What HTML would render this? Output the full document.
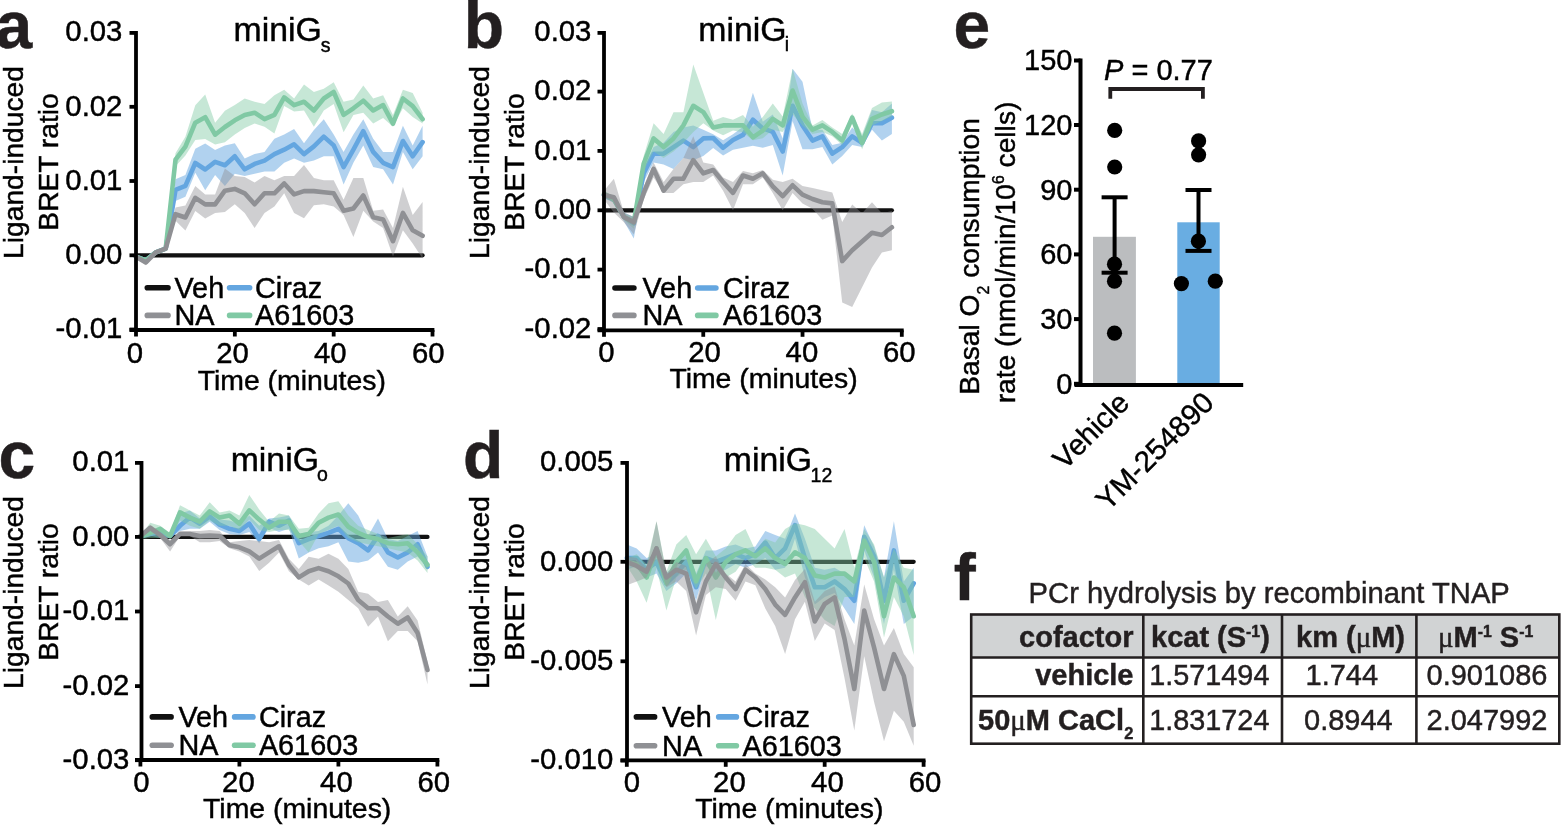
<!DOCTYPE html><html><head><meta charset="utf-8"><title>Figure</title><style>html,body{margin:0;padding:0;background:#fff;overflow:hidden}svg{display:block}text{stroke:#000;stroke-width:0.45px}.tb text,.lbl{stroke:#231f20}</style></head><body>
<svg width="1561" height="826" viewBox="0 0 1561 826" font-family="'Liberation Sans', Arial, sans-serif" fill="#000">
<rect width="1561" height="826" fill="#fff"/>
<text class="lbl" x="-4.5" y="47.5" font-size="66" font-weight="bold" fill="#231f20">a</text>
<text class="lbl" x="463.8" y="47.5" font-size="66" font-weight="bold" fill="#231f20">b</text>
<text class="lbl" x="-1.5" y="477.5" font-size="66" font-weight="bold" fill="#231f20">c</text>
<text class="lbl" x="463" y="477.5" font-size="66" font-weight="bold" fill="#231f20">d</text>
<text class="lbl" x="953.5" y="47.5" font-size="66" font-weight="bold" fill="#231f20">e</text>
<text class="lbl" x="953.7" y="599.5" font-size="66" font-weight="bold" fill="#231f20">f</text>
<text x="233.6" y="41" font-size="33.8">miniG</text><text x="320.8" y="52" font-size="19.5">s</text>
<text x="698.3" y="40.5" font-size="33.8">miniG</text><text x="784.8" y="51.4" font-size="19.5">i</text>
<text x="230.7" y="470.5" font-size="33.8">miniG</text><text x="317" y="481.4" font-size="19.5">o</text>
<text x="723.8" y="470.5" font-size="33.8">miniG</text><text x="810.6" y="481.7" font-size="19.5">12</text>
<line x1="136.0" y1="255.3" x2="422.6166666666667" y2="255.3" stroke="#111111" stroke-width="4.2" stroke-linecap="round"/>
<polygon points="136.0,255.1 145.9,258.2 155.8,250.6 165.7,246.9 175.5,179.3 185.4,175.0 195.3,148.8 205.2,143.4 215.1,149.9 224.9,145.6 234.8,143.2 244.7,158.4 254.6,154.1 264.5,151.9 274.4,138.8 284.2,134.5 294.1,129.0 304.0,143.2 313.9,130.1 323.8,119.2 333.7,134.5 343.6,151.9 353.4,134.5 363.3,119.2 373.2,138.8 383.1,151.9 393.0,151.9 402.9,125.8 412.7,145.4 422.6,125.8 422.6,156.3 412.7,169.3 402.9,151.9 393.0,184.6 383.1,169.3 373.2,167.1 363.3,145.4 353.4,162.8 343.6,184.6 333.7,156.3 323.8,156.3 313.9,160.6 304.0,162.8 294.1,158.4 284.2,162.8 274.4,171.5 264.5,171.5 254.6,173.7 244.7,175.9 234.8,173.7 224.9,185.9 215.1,175.0 205.2,190.2 195.3,172.8 185.4,196.8 175.5,201.1 165.7,250.3 155.8,254.1 145.9,262.5 136.0,258.2" fill="#64a6e0" fill-opacity="0.5"/>
<polyline points="136.0,256.7 145.9,260.4 155.8,252.3 165.7,248.6 175.5,189.8 185.4,185.9 195.3,163.0 205.2,169.5 215.1,161.9 224.9,165.2 234.8,156.3 244.7,169.3 254.6,163.9 264.5,160.6 274.4,154.1 284.2,149.7 294.1,144.3 304.0,154.1 313.9,146.4 323.8,136.6 333.7,145.4 343.6,167.1 353.4,149.7 363.3,131.2 373.2,151.9 383.1,162.8 393.0,167.1 402.9,141.0 412.7,156.3 422.6,142.1" fill="none" stroke="#64a6e0" stroke-width="4.6" stroke-linejoin="round" stroke-linecap="round"/>
<polygon points="136.0,255.1 145.9,258.2 155.8,250.6 165.7,246.9 175.5,153.2 185.4,136.8 195.3,105.3 205.2,94.4 215.1,122.7 224.9,110.7 234.8,105.1 244.7,98.5 254.6,101.8 264.5,104.0 274.4,95.3 284.2,89.8 294.1,98.5 304.0,84.4 313.9,92.0 323.8,88.7 333.7,82.2 343.6,101.8 353.4,99.6 363.3,85.4 373.2,98.5 383.1,95.3 393.0,114.9 402.9,89.8 412.7,93.1 422.6,112.7 422.6,123.6 412.7,117.0 402.9,108.3 393.0,126.8 383.1,118.1 373.2,123.6 363.3,112.7 353.4,114.9 343.6,132.3 333.7,104.0 323.8,110.5 313.9,126.8 304.0,110.5 294.1,111.6 284.2,106.1 274.4,133.4 264.5,126.8 254.6,123.6 244.7,127.9 234.8,134.5 224.9,142.3 215.1,144.5 205.2,139.0 195.3,140.1 185.4,155.4 175.5,166.3 165.7,250.3 155.8,254.1 145.9,262.5 136.0,258.2" fill="#80c9a4" fill-opacity="0.45"/>
<polyline points="136.0,256.7 145.9,260.4 155.8,252.3 165.7,248.6 175.5,159.7 185.4,146.6 195.3,122.7 205.2,117.2 215.1,134.7 224.9,127.0 234.8,120.3 244.7,114.9 254.6,112.7 264.5,119.2 274.4,114.9 284.2,97.4 294.1,105.1 304.0,101.8 313.9,110.5 323.8,98.5 333.7,92.0 343.6,114.9 353.4,108.3 363.3,100.7 373.2,110.5 383.1,105.1 393.0,123.6 402.9,98.5 412.7,106.1 422.6,119.2" fill="none" stroke="#80c9a4" stroke-width="4.6" stroke-linejoin="round" stroke-linecap="round"/>
<polygon points="136.0,255.1 145.9,259.9 155.8,250.1 165.7,246.4 175.5,207.6 185.4,205.5 195.3,185.9 205.2,194.6 215.1,194.6 224.9,168.4 234.8,175.9 244.7,176.9 254.6,182.4 264.5,175.9 274.4,180.2 284.2,175.9 294.1,175.9 304.0,165.0 313.9,178.0 323.8,180.2 333.7,180.2 343.6,199.8 353.4,178.0 363.3,178.0 373.2,210.7 383.1,209.6 393.0,228.1 402.9,186.8 412.7,215.1 422.6,202.0 422.6,258.6 412.7,243.4 402.9,230.3 393.0,256.5 383.1,228.1 373.2,221.6 363.3,210.7 353.4,236.9 343.6,215.1 333.7,206.4 323.8,204.2 313.9,205.3 304.0,218.3 294.1,212.9 284.2,193.3 274.4,206.4 264.5,212.9 254.6,228.1 244.7,212.9 234.8,204.2 224.9,212.0 215.1,213.1 205.2,218.5 195.3,210.9 185.4,230.5 175.5,220.7 165.7,250.8 155.8,254.5 145.9,265.2 136.0,258.2" fill="#8f9094" fill-opacity="0.43"/>
<polyline points="136.0,256.7 145.9,262.5 155.8,252.3 165.7,248.6 175.5,214.2 185.4,217.5 195.3,197.8 205.2,204.4 215.1,204.4 224.9,190.7 234.8,188.9 244.7,193.3 254.6,204.2 264.5,193.3 274.4,193.3 284.2,183.5 294.1,194.4 304.0,191.1 313.9,191.1 323.8,192.2 333.7,193.3 343.6,210.7 353.4,208.5 363.3,195.5 373.2,217.3 383.1,219.4 393.0,241.2 402.9,212.9 412.7,230.3 422.6,235.8" fill="none" stroke="#8f9094" stroke-width="4.6" stroke-linejoin="round" stroke-linecap="round"/>
<line x1="136" y1="31" x2="136" y2="331.9" stroke="#000" stroke-width="3.8"/>
<line x1="129.5" y1="330" x2="434.4" y2="330" stroke="#000" stroke-width="3.8"/>
<line x1="129.5" y1="32.9" x2="136" y2="32.9" stroke="#000" stroke-width="3.8"/>
<text x="122.4" y="41.3" text-anchor="end" font-size="29.3">0.03</text>
<line x1="129.5" y1="106.8" x2="136" y2="106.8" stroke="#000" stroke-width="3.8"/>
<text x="122.4" y="115.5" text-anchor="end" font-size="29.3">0.02</text>
<line x1="129.5" y1="181" x2="136" y2="181" stroke="#000" stroke-width="3.8"/>
<text x="122.4" y="189.7" text-anchor="end" font-size="29.3">0.01</text>
<line x1="129.5" y1="255.3" x2="136" y2="255.3" stroke="#000" stroke-width="3.8"/>
<text x="122.4" y="264.0" text-anchor="end" font-size="29.3">0.00</text>
<line x1="129.5" y1="329.5" x2="136" y2="329.5" stroke="#000" stroke-width="3.8"/>
<text x="122.4" y="338.2" text-anchor="end" font-size="29.3">-0.01</text>
<line x1="136.0" y1="330" x2="136.0" y2="336.5" stroke="#000" stroke-width="3.8"/>
<text x="134.8" y="363" text-anchor="middle" font-size="29.3">0</text>
<line x1="234.83333333333331" y1="330" x2="234.83333333333331" y2="336.5" stroke="#000" stroke-width="3.8"/>
<text x="232.6" y="363" text-anchor="middle" font-size="29.3">20</text>
<line x1="333.66666666666663" y1="330" x2="333.66666666666663" y2="336.5" stroke="#000" stroke-width="3.8"/>
<text x="330.2" y="363" text-anchor="middle" font-size="29.3">40</text>
<line x1="432.5" y1="330" x2="432.5" y2="336.5" stroke="#000" stroke-width="3.8"/>
<text x="428.2" y="363" text-anchor="middle" font-size="29.3">60</text>
<line x1="604.0" y1="210.3" x2="891.8733333333332" y2="210.3" stroke="#111111" stroke-width="4.2" stroke-linecap="round"/>
<polygon points="604.0,191.8 613.9,196.2 623.9,212.5 633.8,216.9 643.7,166.8 653.6,147.1 663.6,142.8 673.5,131.9 683.4,127.5 693.3,125.4 703.3,129.7 713.2,134.3 723.1,140.2 733.0,134.3 743.0,126.7 752.9,92.7 762.8,121.7 772.8,114.5 782.7,138.4 792.6,68.7 802.5,81.8 812.5,129.7 822.4,129.7 832.3,145.0 842.2,142.8 852.2,127.5 862.1,136.3 872.0,110.1 881.9,112.3 891.9,103.6 891.9,134.1 881.9,140.6 872.0,129.7 862.1,147.1 852.2,145.0 842.2,155.9 832.3,164.6 822.4,147.1 812.5,149.3 802.5,149.3 792.6,121.0 782.7,175.5 772.8,145.0 762.8,147.8 752.9,145.8 743.0,147.8 733.0,149.8 723.1,155.6 713.2,148.0 703.3,155.9 693.3,160.2 683.4,158.0 673.5,168.9 663.6,164.6 653.6,162.4 643.7,182.0 633.8,238.6 623.9,221.2 613.9,202.7 604.0,198.3" fill="#64a6e0" fill-opacity="0.5"/>
<polyline points="604.0,195.1 613.9,199.4 623.9,216.9 633.8,223.4 643.7,173.3 653.6,153.7 663.6,153.7 673.5,147.1 683.4,140.6 693.3,147.1 703.3,138.4 713.2,138.0 723.1,147.8 733.0,140.0 743.0,134.9 752.9,119.7 762.8,128.4 772.8,131.9 782.7,151.5 792.6,105.8 802.5,125.4 812.5,140.6 822.4,136.3 832.3,153.7 842.2,147.1 852.2,136.3 862.1,142.8 872.0,123.2 881.9,123.2 891.9,117.7" fill="none" stroke="#64a6e0" stroke-width="4.6" stroke-linejoin="round" stroke-linecap="round"/>
<polygon points="604.0,190.7 613.9,196.2 623.9,213.6 633.8,216.9 643.7,155.9 653.6,123.2 663.6,134.1 673.5,112.3 683.4,112.3 693.3,64.4 703.3,92.7 713.2,120.8 723.1,116.9 733.0,119.7 743.0,114.9 752.9,126.7 762.8,116.9 772.8,103.6 782.7,116.6 792.6,68.7 802.5,103.6 812.5,125.4 822.4,119.9 832.3,127.5 842.2,134.1 852.2,113.4 862.1,134.1 872.0,107.9 881.9,102.5 891.9,101.4 891.9,116.6 881.9,121.0 872.0,125.4 862.1,149.3 852.2,123.2 842.2,145.0 832.3,136.3 822.4,131.9 812.5,134.1 802.5,125.4 792.6,114.5 782.7,131.9 772.8,129.7 762.8,138.2 752.9,140.2 743.0,132.3 733.0,130.4 723.1,135.2 713.2,130.6 703.3,123.2 693.3,131.9 683.4,142.8 673.5,151.5 663.6,158.0 653.6,151.5 643.7,171.1 633.8,228.8 623.9,220.1 613.9,202.7 604.0,197.3" fill="#80c9a4" fill-opacity="0.45"/>
<polyline points="604.0,194.0 613.9,199.4 623.9,216.9 633.8,222.3 643.7,163.5 653.6,138.4 663.6,147.1 673.5,138.4 683.4,125.4 693.3,105.8 703.3,112.1 713.2,127.5 723.1,125.4 733.0,125.4 743.0,125.4 752.9,137.3 762.8,130.6 772.8,118.8 782.7,125.4 792.6,90.5 802.5,116.6 812.5,129.7 822.4,125.4 832.3,131.9 842.2,140.6 852.2,117.7 862.1,142.8 872.0,118.8 881.9,114.5 891.9,111.2" fill="none" stroke="#80c9a4" stroke-width="4.6" stroke-linejoin="round" stroke-linecap="round"/>
<polygon points="604.0,190.7 613.9,178.7 623.9,212.5 633.8,216.9 643.7,186.4 653.6,162.4 663.6,182.0 673.5,168.9 683.4,158.0 693.3,136.3 703.3,162.4 713.2,164.6 723.1,177.6 733.0,182.0 743.0,171.1 752.9,173.3 762.8,170.0 772.8,179.8 782.7,182.0 792.6,178.7 802.5,185.9 812.5,188.1 822.4,190.3 832.3,192.5 842.2,221.9 852.2,204.5 862.1,213.2 872.0,202.3 881.9,213.2 891.9,211.0 891.9,250.2 881.9,252.4 872.0,267.6 862.1,287.3 852.2,306.9 842.2,302.5 832.3,215.4 822.4,219.7 812.5,208.8 802.5,203.4 792.6,192.9 782.7,210.3 772.8,192.9 762.8,177.6 752.9,184.2 743.0,184.2 733.0,210.3 723.1,190.7 713.2,175.5 703.3,182.0 693.3,182.0 683.4,184.2 673.5,192.9 663.6,192.9 653.6,177.6 643.7,199.4 633.8,234.3 623.9,222.3 613.9,212.5 604.0,199.4" fill="#8f9094" fill-opacity="0.43"/>
<polyline points="604.0,195.1 613.9,197.3 623.9,216.9 633.8,222.3 643.7,192.9 653.6,168.9 663.6,190.7 673.5,178.7 683.4,178.7 693.3,160.2 703.3,173.3 713.2,170.0 723.1,182.0 733.0,192.9 743.0,175.5 752.9,178.7 762.8,173.3 772.8,186.4 782.7,196.2 792.6,185.3 802.5,194.7 812.5,199.0 822.4,202.3 832.3,203.4 842.2,261.1 852.2,250.2 862.1,241.5 872.0,232.8 881.9,235.0 891.9,227.3" fill="none" stroke="#8f9094" stroke-width="4.6" stroke-linejoin="round" stroke-linecap="round"/>
<line x1="604" y1="31" x2="604" y2="332.2" stroke="#000" stroke-width="3.8"/>
<line x1="597.5" y1="330.3" x2="903.6999999999999" y2="330.3" stroke="#000" stroke-width="3.8"/>
<line x1="597.5" y1="32.9" x2="604" y2="32.9" stroke="#000" stroke-width="3.8"/>
<text x="591.4" y="41.0" text-anchor="end" font-size="29.3">0.03</text>
<line x1="597.5" y1="91.6" x2="604" y2="91.6" stroke="#000" stroke-width="3.8"/>
<text x="591.4" y="100.3" text-anchor="end" font-size="29.3">0.02</text>
<line x1="597.5" y1="150.9" x2="604" y2="150.9" stroke="#000" stroke-width="3.8"/>
<text x="591.4" y="159.6" text-anchor="end" font-size="29.3">0.01</text>
<line x1="597.5" y1="210.3" x2="604" y2="210.3" stroke="#000" stroke-width="3.8"/>
<text x="591.4" y="219.0" text-anchor="end" font-size="29.3">0.00</text>
<line x1="597.5" y1="269.6" x2="604" y2="269.6" stroke="#000" stroke-width="3.8"/>
<text x="591.4" y="278.3" text-anchor="end" font-size="29.3">-0.01</text>
<line x1="597.5" y1="329" x2="604" y2="329" stroke="#000" stroke-width="3.8"/>
<text x="591.4" y="337.7" text-anchor="end" font-size="29.3">-0.02</text>
<line x1="604.0" y1="330.3" x2="604.0" y2="336.8" stroke="#000" stroke-width="3.8"/>
<text x="606.5" y="361.8" text-anchor="middle" font-size="29.3">0</text>
<line x1="703.2666666666667" y1="330.3" x2="703.2666666666667" y2="336.8" stroke="#000" stroke-width="3.8"/>
<text x="704.5" y="361.8" text-anchor="middle" font-size="29.3">20</text>
<line x1="802.5333333333333" y1="330.3" x2="802.5333333333333" y2="336.8" stroke="#000" stroke-width="3.8"/>
<text x="801.9" y="361.8" text-anchor="middle" font-size="29.3">40</text>
<line x1="901.8" y1="330.3" x2="901.8" y2="336.8" stroke="#000" stroke-width="3.8"/>
<text x="899.3" y="361.8" text-anchor="middle" font-size="29.3">60</text>
<line x1="140.4" y1="536.9" x2="427.5" y2="536.9" stroke="#111111" stroke-width="4.2" stroke-linecap="round"/>
<polygon points="140.4,535.5 150.3,528.8 160.2,530.9 170.1,534.0 180.0,513.5 189.9,510.4 199.8,518.6 209.7,513.5 219.6,519.6 229.5,520.6 239.4,523.7 249.3,515.5 259.2,525.8 269.1,518.6 279.0,517.6 288.9,515.5 298.8,534.0 308.7,531.9 318.6,530.9 328.5,525.8 338.4,515.5 348.3,503.2 358.2,515.5 368.1,536.0 378.0,518.6 387.9,539.1 397.8,541.1 407.7,536.0 417.6,530.9 427.5,556.5 427.5,568.8 417.6,556.5 407.7,561.6 397.8,569.8 387.9,566.8 378.0,552.4 368.1,560.6 358.2,562.7 348.3,561.6 338.4,542.2 328.5,546.3 318.6,548.3 308.7,552.4 298.8,558.6 288.9,528.8 279.0,531.9 269.1,527.8 259.2,543.2 249.3,531.9 239.4,535.0 229.5,534.0 219.6,529.9 209.7,521.7 199.8,528.8 189.9,528.8 180.0,530.9 170.1,538.1 160.2,538.1 150.3,536.0 140.4,538.1" fill="#64a6e0" fill-opacity="0.5"/>
<polyline points="140.4,536.5 150.3,534.0 160.2,531.9 170.1,536.0 180.0,525.8 189.9,517.6 199.8,523.7 209.7,516.5 219.6,524.7 229.5,528.8 239.4,530.9 249.3,523.7 259.2,539.1 269.1,521.7 279.0,525.8 288.9,520.6 298.8,543.2 308.7,539.1 318.6,536.0 328.5,532.9 338.4,528.8 348.3,538.1 358.2,543.2 368.1,550.4 378.0,536.0 387.9,552.4 397.8,557.5 407.7,552.4 417.6,544.2 427.5,566.8" fill="none" stroke="#64a6e0" stroke-width="4.6" stroke-linejoin="round" stroke-linecap="round"/>
<polygon points="140.4,535.5 150.3,522.7 160.2,525.8 170.1,532.9 180.0,505.3 189.9,510.4 199.8,515.5 209.7,502.2 219.6,512.4 229.5,510.4 239.4,515.5 249.3,495.0 259.2,509.4 269.1,521.7 279.0,513.5 288.9,515.5 298.8,528.8 308.7,527.8 318.6,513.5 328.5,503.2 338.4,501.2 348.3,515.5 358.2,525.8 368.1,529.9 378.0,534.0 387.9,538.1 397.8,536.0 407.7,534.0 417.6,544.2 427.5,556.5 427.5,572.9 417.6,560.6 407.7,552.4 397.8,550.4 387.9,548.3 378.0,546.3 368.1,544.2 358.2,542.2 348.3,538.1 338.4,525.8 328.5,529.9 318.6,534.0 308.7,552.4 298.8,541.1 288.9,529.9 279.0,529.9 269.1,531.9 259.2,529.9 249.3,519.6 239.4,529.9 229.5,525.8 219.6,525.8 209.7,520.6 199.8,528.8 189.9,525.8 180.0,520.6 170.1,538.1 160.2,538.1 150.3,538.1 140.4,539.1" fill="#80c9a4" fill-opacity="0.45"/>
<polyline points="140.4,536.5 150.3,532.9 160.2,528.8 170.1,536.0 180.0,512.4 189.9,517.6 199.8,521.7 209.7,511.4 219.6,517.6 229.5,515.5 239.4,523.7 249.3,510.4 259.2,519.6 269.1,527.8 279.0,521.7 288.9,521.7 298.8,536.0 308.7,534.0 318.6,522.7 328.5,517.6 338.4,514.5 348.3,526.8 358.2,532.9 368.1,537.0 378.0,539.1 387.9,543.2 397.8,544.2 407.7,543.2 417.6,552.4 427.5,564.7" fill="none" stroke="#80c9a4" stroke-width="4.6" stroke-linejoin="round" stroke-linecap="round"/>
<polygon points="140.4,534.0 150.3,524.7 160.2,531.9 170.1,540.1 180.0,530.9 189.9,530.9 199.8,530.9 209.7,529.9 219.6,530.9 229.5,542.2 239.4,541.1 249.3,540.1 259.2,541.1 269.1,542.2 279.0,540.1 288.9,558.8 298.8,569.1 308.7,556.8 318.6,558.8 328.5,553.7 338.4,558.8 348.3,569.1 358.2,591.8 368.1,593.8 378.0,602.1 387.9,600.0 397.8,616.5 407.7,606.2 417.6,620.6 427.5,661.8 427.5,684.4 417.6,641.2 407.7,630.9 397.8,630.9 387.9,641.2 378.0,616.5 368.1,626.8 358.2,608.3 348.3,600.0 338.4,591.8 328.5,585.6 318.6,579.4 308.7,585.6 298.8,579.4 288.9,571.2 279.0,552.4 269.1,562.7 259.2,570.9 249.3,556.5 239.4,551.4 229.5,548.3 219.6,541.1 209.7,542.2 199.8,542.2 189.9,536.0 180.0,536.0 170.1,551.4 160.2,538.1 150.3,530.9 140.4,538.1" fill="#8f9094" fill-opacity="0.43"/>
<polyline points="140.4,536.0 150.3,527.8 160.2,535.0 170.1,544.2 180.0,534.0 189.9,534.0 199.8,536.0 209.7,535.5 219.6,536.0 229.5,545.2 239.4,547.3 249.3,551.4 259.2,558.6 269.1,552.4 279.0,546.3 288.9,565.0 298.8,577.4 308.7,571.2 318.6,568.1 328.5,571.2 338.4,576.3 348.3,583.5 358.2,600.0 368.1,608.3 378.0,608.3 387.9,616.5 397.8,623.7 407.7,617.5 417.6,633.0 427.5,670.0" fill="none" stroke="#8f9094" stroke-width="4.6" stroke-linejoin="round" stroke-linecap="round"/>
<line x1="141.5" y1="461" x2="141.5" y2="761.9" stroke="#000" stroke-width="3.8"/>
<line x1="135.0" y1="760" x2="439.29999999999995" y2="760" stroke="#000" stroke-width="3.8"/>
<line x1="135.0" y1="462.9" x2="141.5" y2="462.9" stroke="#000" stroke-width="3.8"/>
<text x="129.4" y="471.0" text-anchor="end" font-size="29.3">0.01</text>
<line x1="135.0" y1="536.9" x2="141.5" y2="536.9" stroke="#000" stroke-width="3.8"/>
<text x="129.4" y="545.6" text-anchor="end" font-size="29.3">0.00</text>
<line x1="135.0" y1="611.5" x2="141.5" y2="611.5" stroke="#000" stroke-width="3.8"/>
<text x="129.4" y="620.2" text-anchor="end" font-size="29.3">-0.01</text>
<line x1="135.0" y1="686.1" x2="141.5" y2="686.1" stroke="#000" stroke-width="3.8"/>
<text x="129.4" y="694.8000000000001" text-anchor="end" font-size="29.3">-0.02</text>
<line x1="135.0" y1="760.2" x2="141.5" y2="760.2" stroke="#000" stroke-width="3.8"/>
<text x="129.4" y="768.9000000000001" text-anchor="end" font-size="29.3">-0.03</text>
<line x1="140.4" y1="760" x2="140.4" y2="766.5" stroke="#000" stroke-width="3.8"/>
<text x="141.5" y="792.2" text-anchor="middle" font-size="29.3">0</text>
<line x1="239.4" y1="760" x2="239.4" y2="766.5" stroke="#000" stroke-width="3.8"/>
<text x="238.4" y="792.2" text-anchor="middle" font-size="29.3">20</text>
<line x1="338.4" y1="760" x2="338.4" y2="766.5" stroke="#000" stroke-width="3.8"/>
<text x="336.4" y="792.2" text-anchor="middle" font-size="29.3">40</text>
<line x1="437.4" y1="760" x2="437.4" y2="766.5" stroke="#000" stroke-width="3.8"/>
<text x="433.8" y="792.2" text-anchor="middle" font-size="29.3">60</text>
<line x1="626.8" y1="561.8" x2="913.7066666666667" y2="561.8" stroke="#111111" stroke-width="4.2" stroke-linecap="round"/>
<polygon points="626.8,544.6 636.7,548.4 646.6,558.1 656.5,554.2 666.4,573.6 676.3,563.9 686.2,548.4 696.1,573.6 705.9,550.4 715.8,550.4 725.7,546.5 735.6,544.6 745.5,548.4 755.4,546.5 765.3,531.0 775.2,534.9 785.1,538.7 795.0,513.6 804.9,538.7 814.8,567.8 824.7,569.7 834.6,567.8 844.5,573.6 854.3,583.3 864.2,525.2 874.1,546.5 884.0,577.5 893.9,521.3 903.8,581.4 913.7,567.8 913.7,616.2 903.8,624.0 893.9,569.7 884.0,624.0 874.1,577.5 864.2,550.4 854.3,624.0 844.5,608.5 834.6,593.0 824.7,596.9 814.8,604.6 804.9,577.5 795.0,538.7 785.1,567.8 775.2,569.7 765.3,558.1 755.4,563.9 745.5,567.8 735.6,563.9 725.7,569.7 715.8,573.6 705.9,565.9 696.1,600.7 686.2,573.6 676.3,583.3 666.4,591.0 656.5,573.6 646.6,577.5 636.7,565.9 626.8,569.7" fill="#64a6e0" fill-opacity="0.5"/>
<polyline points="626.8,558.1 636.7,558.1 646.6,569.7 656.5,562.0 666.4,583.3 676.3,573.6 686.2,562.0 696.1,587.2 705.9,558.1 715.8,562.0 725.7,558.1 735.6,554.2 745.5,558.1 755.4,554.2 765.3,542.6 775.2,558.1 785.1,548.4 795.0,525.2 804.9,558.1 814.8,587.2 824.7,587.2 834.6,581.4 844.5,589.1 854.3,600.7 864.2,536.8 874.1,556.2 884.0,600.7 893.9,550.4 903.8,600.7 913.7,583.3" fill="none" stroke="#64a6e0" stroke-width="4.6" stroke-linejoin="round" stroke-linecap="round"/>
<polygon points="626.8,558.1 636.7,554.2 646.6,563.9 656.5,521.3 666.4,571.7 676.3,544.6 686.2,534.9 696.1,554.2 705.9,538.7 715.8,556.2 725.7,548.4 735.6,534.9 745.5,529.1 755.4,550.4 765.3,538.7 775.2,542.6 785.1,529.1 795.0,523.2 804.9,525.2 814.8,529.1 824.7,538.7 834.6,548.4 844.5,529.1 854.3,567.8 864.2,529.1 874.1,544.6 884.0,577.5 893.9,548.4 903.8,567.8 913.7,569.7 913.7,655.0 903.8,616.2 893.9,596.9 884.0,637.5 874.1,581.4 864.2,558.1 854.3,596.9 844.5,596.9 834.6,625.9 824.7,620.1 814.8,608.5 804.9,596.9 795.0,573.6 785.1,577.5 775.2,569.7 765.3,567.8 755.4,567.8 745.5,558.1 735.6,571.7 725.7,577.5 715.8,620.1 705.9,573.6 696.1,589.1 686.2,569.7 676.3,577.5 666.4,610.4 656.5,567.8 646.6,602.7 636.7,581.4 626.8,565.9" fill="#80c9a4" fill-opacity="0.45"/>
<polyline points="626.8,562.0 636.7,563.9 646.6,577.5 656.5,548.4 666.4,583.3 676.3,562.0 686.2,550.4 696.1,581.4 705.9,558.1 715.8,577.5 725.7,562.0 735.6,554.2 745.5,550.4 755.4,556.2 765.3,548.4 775.2,558.1 785.1,563.9 795.0,552.3 804.9,558.1 814.8,575.5 824.7,577.5 834.6,573.6 844.5,573.6 854.3,581.4 864.2,540.7 874.1,562.0 884.0,616.2 893.9,577.5 903.8,587.2 913.7,616.2" fill="none" stroke="#80c9a4" stroke-width="4.6" stroke-linejoin="round" stroke-linecap="round"/>
<polygon points="626.8,556.2 636.7,558.1 646.6,567.8 656.5,521.3 666.4,573.6 676.3,562.0 686.2,565.9 696.1,602.7 705.9,563.9 715.8,556.2 725.7,573.6 735.6,581.4 745.5,563.9 755.4,573.6 765.3,579.4 775.2,587.2 785.1,597.4 795.0,580.0 804.9,569.1 814.8,601.8 824.7,590.9 834.6,586.5 844.5,619.2 854.3,645.4 864.2,584.4 874.1,619.2 884.0,645.4 893.9,628.0 903.8,654.1 913.7,667.2 913.7,745.7 903.8,721.7 893.9,710.8 884.0,741.3 874.1,702.1 864.2,656.3 854.3,730.4 844.5,678.1 834.6,630.1 824.7,623.6 814.8,641.0 804.9,601.8 795.0,619.2 785.1,654.1 775.2,625.9 765.3,608.5 755.4,585.2 745.5,581.4 735.6,600.7 725.7,589.1 715.8,587.2 705.9,594.9 696.1,635.6 686.2,591.0 676.3,581.4 666.4,587.2 656.5,558.1 646.6,577.5 636.7,581.4 626.8,585.2" fill="#8f9094" fill-opacity="0.43"/>
<polyline points="626.8,562.0 636.7,565.9 646.6,571.7 656.5,548.4 666.4,577.5 676.3,569.7 686.2,573.6 696.1,612.3 705.9,581.4 715.8,563.9 725.7,577.5 735.6,589.1 745.5,569.7 755.4,577.5 765.3,589.1 775.2,604.6 785.1,614.9 795.0,597.4 804.9,582.2 814.8,621.4 824.7,604.0 834.6,597.4 844.5,638.9 854.3,689.0 864.2,610.5 874.1,647.6 884.0,689.0 893.9,654.1 903.8,675.9 913.7,725.0" fill="none" stroke="#8f9094" stroke-width="4.6" stroke-linejoin="round" stroke-linecap="round"/>
<line x1="627" y1="461" x2="627" y2="762.1999999999999" stroke="#000" stroke-width="3.8"/>
<line x1="620.5" y1="760.3" x2="925.5" y2="760.3" stroke="#000" stroke-width="3.8"/>
<line x1="620.5" y1="462.9" x2="627" y2="462.9" stroke="#000" stroke-width="3.8"/>
<text x="613.4" y="471.0" text-anchor="end" font-size="29.3">0.005</text>
<line x1="620.5" y1="561.8" x2="627" y2="561.8" stroke="#000" stroke-width="3.8"/>
<text x="613.4" y="570.5" text-anchor="end" font-size="29.3">0.000</text>
<line x1="620.5" y1="661.3" x2="627" y2="661.3" stroke="#000" stroke-width="3.8"/>
<text x="613.4" y="670.0" text-anchor="end" font-size="29.3">-0.005</text>
<line x1="620.5" y1="760.5" x2="627" y2="760.5" stroke="#000" stroke-width="3.8"/>
<text x="613.4" y="769.2" text-anchor="end" font-size="29.3">-0.010</text>
<line x1="626.8" y1="760.3" x2="626.8" y2="766.8" stroke="#000" stroke-width="3.8"/>
<text x="631.9" y="792.2" text-anchor="middle" font-size="29.3">0</text>
<line x1="725.7333333333333" y1="760.3" x2="725.7333333333333" y2="766.8" stroke="#000" stroke-width="3.8"/>
<text x="729.4" y="792.2" text-anchor="middle" font-size="29.3">20</text>
<line x1="824.6666666666666" y1="760.3" x2="824.6666666666666" y2="766.8" stroke="#000" stroke-width="3.8"/>
<text x="827.4" y="792.2" text-anchor="middle" font-size="29.3">40</text>
<line x1="923.6" y1="760.3" x2="923.6" y2="766.8" stroke="#000" stroke-width="3.8"/>
<text x="925" y="792.2" text-anchor="middle" font-size="29.3">60</text>
<text transform="translate(22.7,162.5) rotate(-90)" text-anchor="middle" font-size="28.2">Ligand-induced</text>
<text transform="translate(57.8,162) rotate(-90)" text-anchor="middle" font-size="28.2">BRET ratio</text>
<text transform="translate(488.6,162.5) rotate(-90)" text-anchor="middle" font-size="28.2">Ligand-induced</text>
<text transform="translate(523.5,162) rotate(-90)" text-anchor="middle" font-size="28.2">BRET ratio</text>
<text transform="translate(22.9,592.5) rotate(-90)" text-anchor="middle" font-size="28.2">Ligand-induced</text>
<text transform="translate(57.9,592) rotate(-90)" text-anchor="middle" font-size="28.2">BRET ratio</text>
<text transform="translate(488.6,592.5) rotate(-90)" text-anchor="middle" font-size="28.2">Ligand-induced</text>
<text transform="translate(523.5,592) rotate(-90)" text-anchor="middle" font-size="28.2">BRET ratio</text>
<text x="291.8" y="390.3" text-anchor="middle" font-size="28.4">Time (minutes)</text>
<text x="763.5" y="388.4" text-anchor="middle" font-size="28.4">Time (minutes)</text>
<text x="297.2" y="818.4" text-anchor="middle" font-size="28.4">Time (minutes)</text>
<text x="789.3" y="818.4" text-anchor="middle" font-size="28.4">Time (minutes)</text>
<line x1="147.3" y1="287.7" x2="168" y2="287.7" stroke="#111111" stroke-width="5.6" stroke-linecap="round"/>
<line x1="147.3" y1="315.4" x2="168" y2="315.4" stroke="#8f9094" stroke-width="5.6" stroke-linecap="round"/>
<line x1="229.6" y1="287.7" x2="249.6" y2="287.7" stroke="#64a6e0" stroke-width="5.6" stroke-linecap="round"/>
<line x1="229.6" y1="315.4" x2="249.6" y2="315.4" stroke="#80c9a4" stroke-width="5.6" stroke-linecap="round"/>
<text x="174.5" y="297.7" font-size="28.8">Veh</text>
<text x="174.5" y="325.4" font-size="28.8">NA</text>
<text x="255" y="297.7" font-size="28.8">Ciraz</text>
<text x="255" y="325.4" font-size="28.8">A61603</text>
<line x1="615" y1="288" x2="633.9" y2="288" stroke="#111111" stroke-width="5.6" stroke-linecap="round"/>
<line x1="615" y1="315.4" x2="633.9" y2="315.4" stroke="#8f9094" stroke-width="5.6" stroke-linecap="round"/>
<line x1="697.7" y1="288" x2="715.9" y2="288" stroke="#64a6e0" stroke-width="5.6" stroke-linecap="round"/>
<line x1="697.7" y1="315.4" x2="715.9" y2="315.4" stroke="#80c9a4" stroke-width="5.6" stroke-linecap="round"/>
<text x="642.5" y="298" font-size="28.8">Veh</text>
<text x="642.5" y="325.4" font-size="28.8">NA</text>
<text x="723" y="298" font-size="28.8">Ciraz</text>
<text x="723" y="325.4" font-size="28.8">A61603</text>
<line x1="152.3" y1="716.9" x2="171.1" y2="716.9" stroke="#111111" stroke-width="5.6" stroke-linecap="round"/>
<line x1="152.3" y1="745.3" x2="171.1" y2="745.3" stroke="#8f9094" stroke-width="5.6" stroke-linecap="round"/>
<line x1="234.6" y1="716.9" x2="253.0" y2="716.9" stroke="#64a6e0" stroke-width="5.6" stroke-linecap="round"/>
<line x1="234.6" y1="745.3" x2="253.0" y2="745.3" stroke="#80c9a4" stroke-width="5.6" stroke-linecap="round"/>
<text x="178.4" y="726.9" font-size="28.8">Veh</text>
<text x="178.4" y="755.3" font-size="28.8">NA</text>
<text x="258.9" y="726.9" font-size="28.8">Ciraz</text>
<text x="258.9" y="755.3" font-size="28.8">A61603</text>
<line x1="636.4" y1="716.9" x2="654.6" y2="716.9" stroke="#111111" stroke-width="5.6" stroke-linecap="round"/>
<line x1="636.4" y1="745.7" x2="654.6" y2="745.7" stroke="#8f9094" stroke-width="5.6" stroke-linecap="round"/>
<line x1="718.7" y1="716.9" x2="736.4" y2="716.9" stroke="#64a6e0" stroke-width="5.6" stroke-linecap="round"/>
<line x1="718.7" y1="745.7" x2="736.4" y2="745.7" stroke="#80c9a4" stroke-width="5.6" stroke-linecap="round"/>
<text x="662.1" y="726.9" font-size="28.8">Veh</text>
<text x="662.1" y="755.7" font-size="28.8">NA</text>
<text x="742.6" y="726.9" font-size="28.8">Ciraz</text>
<text x="742.6" y="755.7" font-size="28.8">A61603</text>
<rect x="1093" y="236.8" width="42.9" height="148.2" fill="#bbbdbf"/>
<rect x="1177.3" y="222.3" width="42.4" height="162.7" fill="#69ade2"/>
<line x1="1080.5" y1="58.5" x2="1080.5" y2="387" stroke="#000" stroke-width="4"/>
<line x1="1074.5" y1="385" x2="1243.2" y2="385" stroke="#000" stroke-width="4"/>
<line x1="1074.0" y1="60.5" x2="1080.5" y2="60.5" stroke="#000" stroke-width="4"/>
<text x="1072.5" y="70.30000000000001" text-anchor="end" font-size="29">150</text>
<line x1="1074.0" y1="125.0" x2="1080.5" y2="125.0" stroke="#000" stroke-width="4"/>
<text x="1072.5" y="135.0" text-anchor="end" font-size="29">120</text>
<line x1="1074.0" y1="189.70000000000002" x2="1080.5" y2="189.70000000000002" stroke="#000" stroke-width="4"/>
<text x="1072.5" y="199.70000000000002" text-anchor="end" font-size="29">90</text>
<line x1="1074.0" y1="254.4" x2="1080.5" y2="254.4" stroke="#000" stroke-width="4"/>
<text x="1072.5" y="264.4" text-anchor="end" font-size="29">60</text>
<line x1="1074.0" y1="319.1" x2="1080.5" y2="319.1" stroke="#000" stroke-width="4"/>
<text x="1072.5" y="329.1" text-anchor="end" font-size="29">30</text>
<line x1="1074.0" y1="383.8" x2="1080.5" y2="383.8" stroke="#000" stroke-width="4"/>
<text x="1072.5" y="393.8" text-anchor="end" font-size="29">0</text>
<line x1="1114.6" y1="197.3" x2="1114.6" y2="272.7" stroke="#000" stroke-width="4"/>
<line x1="1101.6" y1="197.3" x2="1127.6" y2="197.3" stroke="#000" stroke-width="4"/>
<line x1="1101.6" y1="272.7" x2="1127.6" y2="272.7" stroke="#000" stroke-width="4"/>
<line x1="1198.5" y1="190" x2="1198.5" y2="250.9" stroke="#000" stroke-width="4"/>
<line x1="1185.5" y1="190" x2="1211.5" y2="190" stroke="#000" stroke-width="4"/>
<line x1="1185.5" y1="250.9" x2="1211.5" y2="250.9" stroke="#000" stroke-width="4"/>
<circle cx="1114.7" cy="130.4" r="7.6" fill="#000"/>
<circle cx="1114.7" cy="167" r="7.6" fill="#000"/>
<circle cx="1114.5" cy="264.2" r="7.6" fill="#000"/>
<circle cx="1114.5" cy="281.2" r="7.6" fill="#000"/>
<circle cx="1114.5" cy="333.2" r="7.6" fill="#000"/>
<circle cx="1198.6" cy="140.9" r="7.6" fill="#000"/>
<circle cx="1198.6" cy="154.8" r="7.6" fill="#000"/>
<circle cx="1198.4" cy="241.2" r="7.6" fill="#000"/>
<circle cx="1181.4" cy="283.6" r="7.6" fill="#000"/>
<circle cx="1215.3" cy="281.2" r="7.6" fill="#000"/>
<polyline points="1110.3,98.8 1110.3,89 1202.9,89 1202.9,98.8" fill="none" stroke="#231f20" stroke-width="3.8"/>
<text x="1104" y="80.3" font-size="29"><tspan font-style="italic">P</tspan> = 0.77</text>
<text transform="translate(1131,404.5) rotate(-45)" text-anchor="end" font-size="29">Vehicle</text>
<text transform="translate(1215.5,404.5) rotate(-45)" text-anchor="end" font-size="29.4">YM-254890</text>
<text transform="translate(979,256.4) rotate(-90)" text-anchor="middle" font-size="28.2">Basal O<tspan font-size="15.8" dy="9.7">2</tspan><tspan dy="-9.7"> consumption</tspan></text>
<text transform="translate(1014.5,252.5) rotate(-90)" text-anchor="middle" font-size="28.2">rate (nmol/min/10<tspan font-size="15.8" dy="-11">6</tspan><tspan dy="11"> cells)</tspan></text>
<rect x="971.2" y="614.5" width="588.0999999999999" height="43.0" fill="#d1d3d4"/>
<rect x="971.2" y="614.5" width="588.0999999999999" height="129.20000000000005" fill="none" stroke="#231f20" stroke-width="2.6"/>
<line x1="971.2" y1="657.5" x2="1559.3" y2="657.5" stroke="#231f20" stroke-width="2.6"/>
<line x1="971.2" y1="696.2" x2="1559.3" y2="696.2" stroke="#231f20" stroke-width="2.6"/>
<line x1="1143.3" y1="614.5" x2="1143.3" y2="743.7" stroke="#231f20" stroke-width="2.6"/>
<line x1="1282" y1="614.5" x2="1282" y2="743.7" stroke="#231f20" stroke-width="2.6"/>
<line x1="1416.4" y1="614.5" x2="1416.4" y2="743.7" stroke="#231f20" stroke-width="2.6"/>
<g class="tb" fill="#231f20" font-size="29">
<text x="1028.6" y="602.8" font-size="29.2">PCr hydrolysis by recombinant TNAP</text>
<text x="1133.5" y="646.9" text-anchor="end" font-weight="bold">cofactor</text>
<text x="1151" y="646.9" font-weight="bold">kcat (S<tspan font-size="15.8" dy="-9.7">-1</tspan><tspan dy="9.7">)</tspan></text>
<text x="1296" y="646.9" font-weight="bold">km (<tspan font-weight="normal" font-family="'Liberation Serif', serif">&#956;</tspan>M)</text>
<text x="1438" y="646.9" font-weight="bold"><tspan font-weight="normal" font-family="'Liberation Serif', serif">&#956;</tspan>M<tspan font-size="15.8" dy="-9.7">-1</tspan><tspan dy="9.7"> S</tspan><tspan font-size="15.8" dy="-9.7">-1</tspan></text>
<text x="1133.5" y="684.5" text-anchor="end" font-weight="bold">vehicle</text>
<text x="978" y="729.5" font-weight="bold">50<tspan font-weight="normal" font-family="'Liberation Serif', serif">&#956;</tspan>M CaCl<tspan font-size="16.5" dy="9.5">2</tspan></text>
<text x="1149.3" y="684.5" font-size="28.8">1.571494</text>
<text x="1149.3" y="729.5" font-size="28.8">1.831724</text>
<text x="1305.5" y="684.5">1.744</text>
<text x="1304" y="729.5">0.8944</text>
<text x="1426.5" y="684.5">0.901086</text>
<text x="1426.5" y="729.5">2.047992</text>
</g>
</svg></body></html>
